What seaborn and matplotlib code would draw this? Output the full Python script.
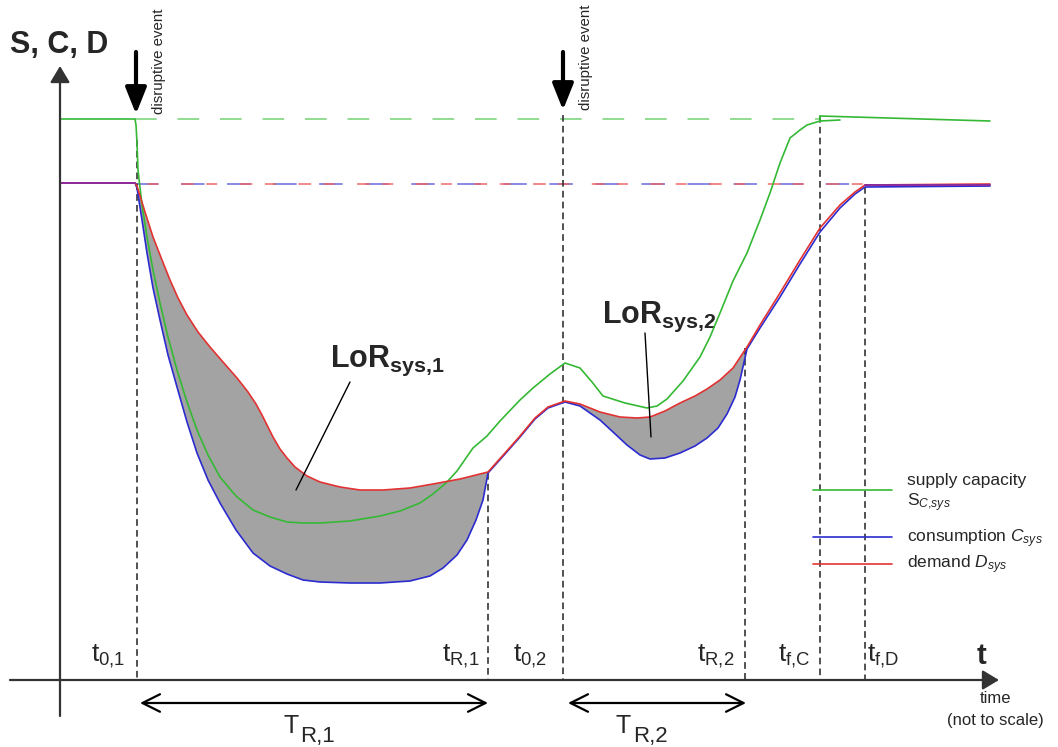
import numpy as np
import pandas as pd
import matplotlib
matplotlib.use("Agg")
import matplotlib.pyplot as plt
import seaborn as sns

# ---------------- data (in picture units) ----------------
# demand D_sys
demand_x = [60, 135, 137, 145, 153, 162, 170, 178, 187, 198, 210, 223, 237, 248, 256, 262, 267, 273,
            280, 287, 295, 307, 320, 340, 360, 383, 410, 433, 460, 488, 505, 520, 535, 548, 565, 580,
            600, 620, 637, 650, 665, 680, 695, 707, 720, 733, 747, 760, 780, 800, 820, 840, 855, 865, 990]
demand_y = [183, 183, 186, 212, 237, 260, 280, 298, 315, 332, 347, 362, 378, 392, 404, 415, 425, 437,
            449, 458, 467, 476, 482, 487, 490, 490, 488, 484, 479, 472, 453, 436, 418, 407, 401, 404,
            412, 417, 418, 417, 411, 403, 396, 389, 380, 368, 347, 325, 293, 260, 228, 205, 192, 185, 184]
# consumption C_sys
cons_x = [60, 135, 137, 142, 147, 153, 160, 168, 177, 187, 197, 208, 220, 236, 253, 270, 287, 303,
          320, 350, 380, 410, 430, 443, 457, 467, 476, 483, 488, 505, 520, 535, 548, 565, 580, 600,
          613, 627, 640, 650, 665, 680, 695, 707, 718, 727, 735, 740, 747, 760, 780, 800, 820, 840,
          855, 865, 990]
cons_y = [183, 183, 188, 220, 253, 288, 320, 355, 387, 422, 453, 480, 503, 530, 553, 566, 574, 580,
          582, 583, 583, 581, 576, 568, 555, 540, 520, 500, 473, 454, 437, 419, 408, 402, 406, 420,
          432, 445, 455, 459, 458, 453, 446, 438, 428, 414, 397, 380, 349, 328, 297, 264, 232, 208,
          194, 187, 186]
# supply capacity S_C,sys
supply_x = [60, 135, 136, 137, 138, 142, 147, 153, 160, 168, 177, 187, 197, 208, 220, 236, 253, 270,
            287, 303, 320, 350, 380, 400, 420, 433, 446, 457, 466, 473, 487, 500, 520, 533, 550, 565,
            580, 592, 603, 625, 647, 657, 667, 683, 700, 710, 720, 733, 747, 760, 770, 780, 790, 800,
            807, 820, 840]
supply_y = [119, 119, 125, 143, 170, 205, 237, 270, 303, 337, 370, 402, 430, 455, 477, 496, 510, 517,
            522, 523, 523, 521, 516, 511, 503, 494, 483, 471, 458, 448, 436, 421, 400, 388, 374, 363,
            368, 382, 396, 403, 408, 406, 399, 381, 357, 337, 313, 281, 253, 220, 193, 163, 138, 130,
            125, 121, 120]
supply_after_x = [820, 990]
supply_after_y = [116, 121]

# pre-event reference levels
supply_level = 119
demand_level = 184

# time marks
mark_x = [137, 488, 563, 745, 820, 865]
mark_top = [140, 473, 115, 348, 116, 187]
mark_labels = ["t$_{0{,}1}$", "t$_{\\mathrm{R{,}1}}$", "t$_{0{,}2}$", "t$_{\\mathrm{R{,}2}}$",
               "t$_{\\mathrm{f{,}C}}$", "t$_{\\mathrm{f{,}D}}$"]
mark_label_x = [91, 442, 513, 697, 778, 867]

# ---------------- style ----------------
sns.set_style("white")
plt.rcParams["font.family"] = ["Liberation Sans", "DejaVu Sans"]
plt.rcParams["mathtext.fontset"] = "custom"
plt.rcParams["mathtext.rm"] = "Liberation Sans"
plt.rcParams["mathtext.it"] = "Liberation Sans:italic"
plt.rcParams["mathtext.bf"] = "Liberation Sans:bold"

GREEN = "#35b935"
BLUE = "#2b2bd0"
RED = "#e23232"
PURPLE = "#8a2c9c"
GRAY = "#a3a3a3"
DARK = "#333333"

fig = plt.figure(figsize=(10.58, 7.47), dpi=100)
ax = fig.add_axes([0, 0, 1, 1])
ax.set_xlim(0, 1058)
ax.set_ylim(747, 0)
ax.set_axis_off()

# ---------------- shaded loss of resilience areas ----------------
dx = np.array(demand_x); dy = np.array(demand_y)
cx = np.array(cons_x); cy = np.array(cons_y)
for lo, hi in [(137, 488), (565, 747)]:
    md = (dx >= lo) & (dx <= hi)
    mc = (cx >= lo) & (cx <= hi)
    ax.fill(np.r_[dx[md], cx[mc][::-1]], np.r_[dy[md], cy[mc][::-1]],
            color=GRAY, lw=0, zorder=1)

# ---------------- reference dashed levels ----------------
ax.plot([135, 820], [supply_level, supply_level], color="#7fd67f", lw=1.2,
        dashes=(13, 12.5), zorder=2)
ax.plot([135, 865], [demand_level, demand_level], color="#6a6ae0", lw=1.3,
        dashes=(13, 12.5), zorder=2, alpha=0.85)
l = ax.plot([135, 865], [demand_level, demand_level], color="#ee6060", lw=1.3,
            zorder=2, alpha=0.8)[0]
l.set_dashes((0, 7, 6, 12.5, 7, 0))

# ---------------- vertical dashed time marks ----------------
for x, top in zip(mark_x, mark_top):
    ax.plot([x, x], [top, 680], color=DARK, lw=1.2, dashes=(4, 2.5), zorder=2)

# ---------------- curves ----------------
sns.lineplot(x=supply_x, y=supply_y, sort=False, estimator=None, color=GREEN, lw=1.2, ax=ax, zorder=4)
sns.lineplot(x=supply_after_x, y=supply_after_y, sort=False, estimator=None, color=GREEN, lw=1.2, ax=ax, zorder=4)
sns.lineplot(x=cons_x, y=cons_y, sort=False, estimator=None, color=BLUE, lw=1.2, ax=ax, zorder=5)
sns.lineplot(x=demand_x, y=demand_y, sort=False, estimator=None, color=RED, lw=1.2, ax=ax, zorder=5)
ax.plot([60, 135], [183, 183], color=PURPLE, lw=1.4, zorder=6)
ax.plot([865, 990], [185, 185], color=PURPLE, lw=1.4, zorder=6)
ax.plot([820, 820], [116, 121], color=GREEN, lw=1.2, zorder=4)
ax.set_xlim(0, 1058)
ax.set_ylim(747, 0)

# ---------------- axes with arrows ----------------
ax.annotate("", xy=(60, 66), xytext=(60, 716),
            arrowprops=dict(arrowstyle="-|>,head_length=1.0,head_width=0.6", lw=1.6,
                            color=DARK, mutation_scale=10, shrinkA=0, shrinkB=0), zorder=6)
ax.annotate("", xy=(999, 680), xytext=(10, 680),
            arrowprops=dict(arrowstyle="-|>,head_length=1.0,head_width=0.6", lw=1.6,
                            color=DARK, mutation_scale=10, shrinkA=0, shrinkB=0), zorder=6)
ax.text(10, 53, "S, C, D", fontsize=22, fontweight="bold", ha="left", va="baseline")
ax.text(977, 664, "t", fontsize=21, fontweight="bold", ha="left", va="baseline")
ax.text(995, 703, "time", fontsize=12, ha="center", va="baseline")
ax.text(995, 725, "(not to scale)", fontsize=12, ha="center", va="baseline")

# ---------------- disruptive events ----------------
for ex, tip, tx in [(136, 114, 159), (563, 110, 586)]:
    ax.annotate("", xy=(ex, tip), xytext=(ex, 52),
                arrowprops=dict(arrowstyle="-|>,head_length=0.8,head_width=0.32", lw=3,
                                color="black", mutation_scale=20, shrinkA=0, shrinkB=0), zorder=6)
    ax.text(tx, tip, "disruptive event", rotation=90, fontsize=10.8,
            ha="center", va="bottom")

# ---------------- time labels ----------------
for lab, lx in zip(mark_labels, mark_label_x):
    ax.text(lx, 661, lab, fontsize=19, ha="left", va="baseline")

# recovery durations
for x0, x1 in [(140, 488), (568, 746)]:
    ax.annotate("", xy=(x1, 703), xytext=(x0, 703),
                arrowprops=dict(arrowstyle="<->,head_length=0.9,head_width=0.45", lw=1.6,
                                color="black", mutation_scale=14, shrinkA=0, shrinkB=0))
ax.text(283, 733, "T", fontsize=18, ha="left", va="baseline")
ax.text(300, 742, "R,1", fontsize=16, ha="left", va="baseline")
ax.text(616, 733, "T", fontsize=18, ha="left", va="baseline")
ax.text(633, 742, "R,2", fontsize=16, ha="left", va="baseline")

# ---------------- LoR annotations ----------------
ax.text(330, 367, r"$\mathbf{LoR}_{\mathbf{sys{,}1}}$", fontsize=22, ha="left", va="baseline")
ax.plot([350, 296], [382, 490], color="black", lw=1.0, zorder=6)
ax.text(602, 323, r"$\mathbf{LoR}_{\mathbf{sys{,}2}}$", fontsize=22, ha="left", va="baseline")
ax.plot([645, 651], [333, 437], color="black", lw=1.0, zorder=6)

# ---------------- legend ----------------
for yy, col in [(490, GREEN), (537, BLUE), (564, RED)]:
    ax.plot([813, 892], [yy, yy], color=col, lw=1.2, zorder=6)
ax.text(907, 485, "supply capacity", fontsize=12.5, ha="left", va="baseline")
ax.text(907, 506, r"S$_{C{,}sys}$", fontsize=12.5, ha="left", va="baseline")
ax.text(907, 542, r"consumption $C_{sys}$", fontsize=12.5, ha="left", va="baseline")
ax.text(907, 568, r"demand $D_{sys}$", fontsize=12.5, ha="left", va="baseline")

fig.savefig("out.png", dpi=100)
